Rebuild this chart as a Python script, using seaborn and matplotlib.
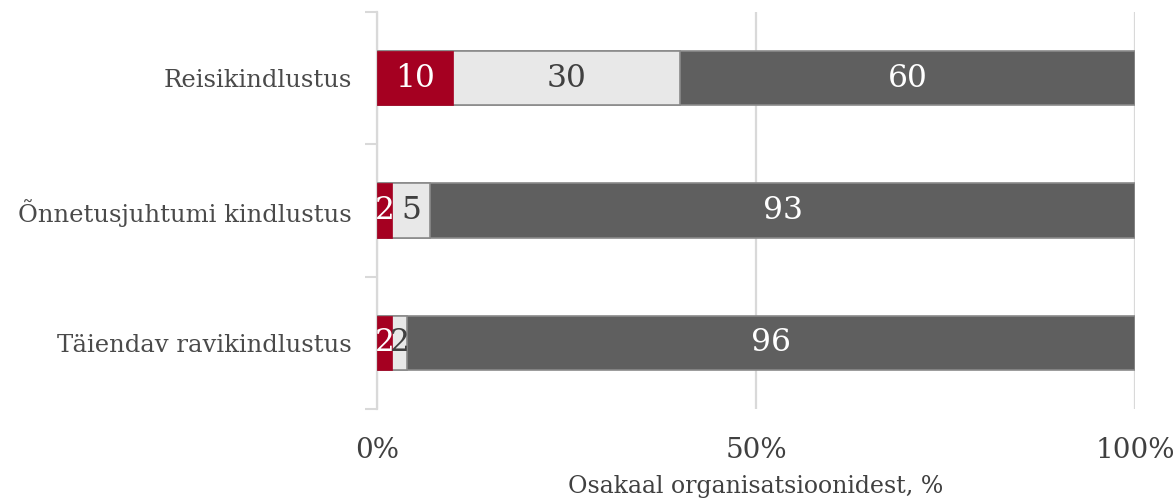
import numpy as np
import pandas as pd
import seaborn as sns
import matplotlib.pyplot as plt
from matplotlib.ticker import FixedLocator

# data
categories = ['Reisikindlustus', 'Õnnetusjuhtumi kindlustus', 'Täiendav ravikindlustus']
red_part = [10, 2, 2]
light_part = [30, 5, 2]
dark_part = [60, 93, 96]

sns.set_style('white')
plt.rcParams['font.family'] = ['DejaVu Serif']

data = pd.DataFrame({'category': categories, 'red': red_part,
                     'light': light_part, 'dark': dark_part})
data['cum_red'] = data['red']
data['cum_light'] = data['red'] + data['light']
data['cum_dark'] = data['cum_light'] + data['dark']

fig = plt.figure(figsize=(11.76, 5.01), dpi=100)
ax = fig.add_axes([0.3206, 0.1836, 0.9651 - 0.3206, 0.976 - 0.1836])

# grid lines behind bars
for x in [0, 50, 100]:
    ax.axvline(x, color='#d9d9d9', lw=1.6, zorder=0)

bar_w = 0.41
sns.barplot(data=data, y='category', x='cum_dark', color='#5f5f5f', width=bar_w,
            edgecolor='#8a8a8a', linewidth=1.2, saturation=1, ax=ax, zorder=2)
sns.barplot(data=data, y='category', x='cum_light', color='#e8e8e8', width=bar_w,
            edgecolor='#8a8a8a', linewidth=1.2, saturation=1, ax=ax, zorder=3)
sns.barplot(data=data, y='category', x='cum_red', color='#a50021', width=bar_w,
            edgecolor='#a50021', linewidth=0.5, saturation=1, ax=ax, zorder=4)

# value labels centred in each segment
fs = 22.5
for i, row in data.iterrows():
    ax.text(row['red'] / 2, i, str(row['red']), ha='center', va='center',
            color='white', fontsize=fs, zorder=6)
    ax.text(row['cum_red'] + row['light'] / 2, i, str(row['light']), ha='center',
            va='center', color='#404040', fontsize=fs, zorder=5)
    ax.text(row['cum_light'] + row['dark'] / 2, i, str(row['dark']), ha='center',
            va='center', color='white', fontsize=fs, zorder=5)

ax.set_xlim(0, 100)
ax.set_ylim(2.5, -0.5)
ax.set_xticks([0, 50, 100])
ax.set_xticklabels(['0%', '50%', '100%'], fontsize=20, color='#404040')
ax.tick_params(axis='x', length=0, pad=20)
ax.tick_params(axis='y', which='major', length=0, pad=18, labelsize=17.5, labelcolor='#4a4a4a')
ax.yaxis.set_minor_locator(FixedLocator([-0.5, 0.5, 1.5, 2.5]))
ax.tick_params(axis='y', which='minor', left=True, length=9, width=1.5, color='#d9d9d9')

ax.set_ylabel('')
ax.set_xlabel('')
fig.text((0.3206 + 0.9651) / 2, 0.016, 'Osakaal organisatsioonidest, %', ha='center',
         va='baseline', fontsize=17, color='#404040')

for s in ['top', 'right', 'bottom']:
    ax.spines[s].set_visible(False)
ax.spines['left'].set_color('#d9d9d9')
ax.spines['left'].set_linewidth(1.6)

fig.savefig('out.png', dpi=100)
